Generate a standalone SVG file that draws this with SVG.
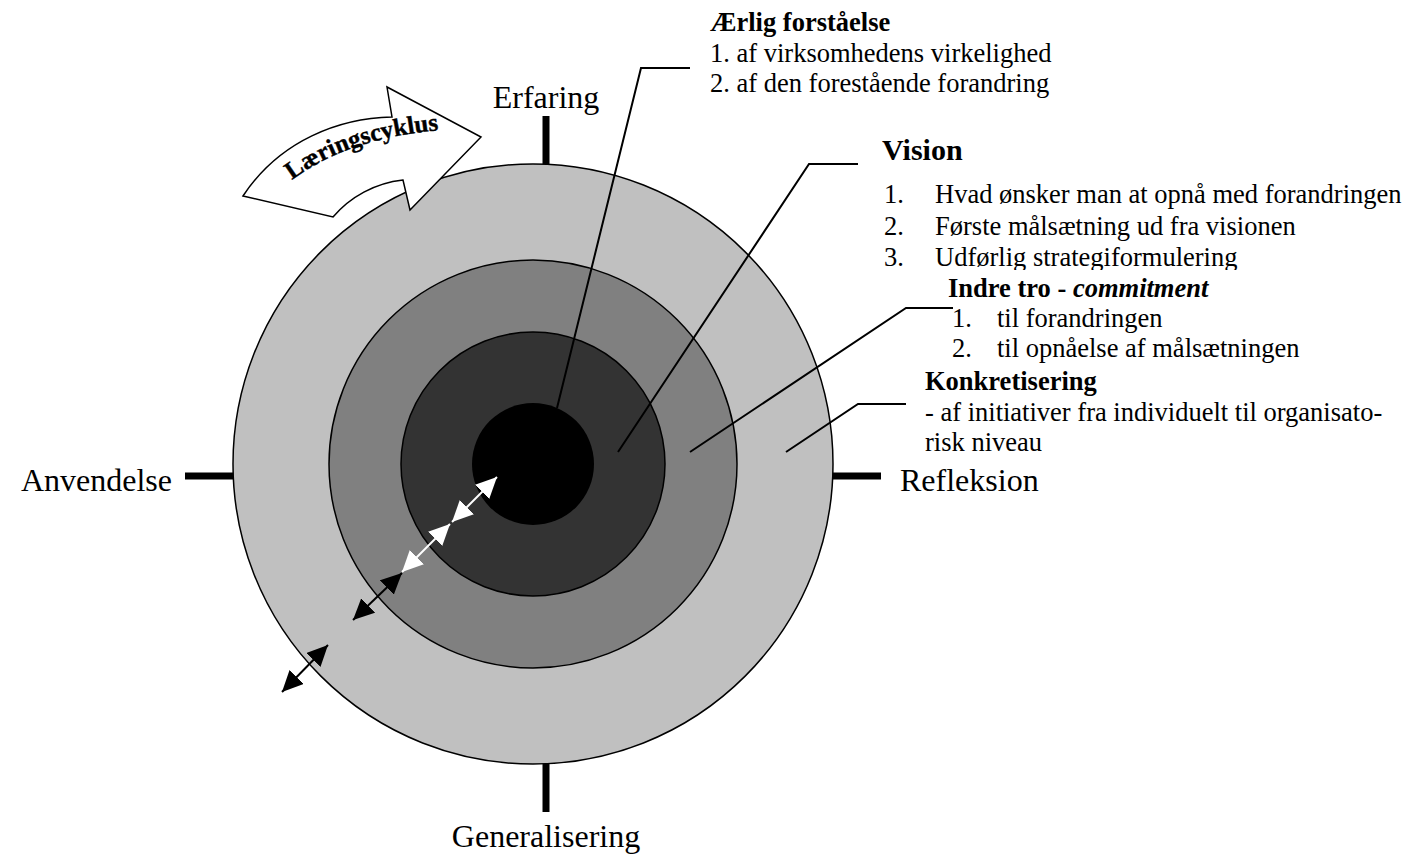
<svg xmlns="http://www.w3.org/2000/svg" width="1413" height="856" viewBox="0 0 1413 856">
  <style>
    text { font-family: "Liberation Serif", "Times New Roman", serif; fill: #000; }
    .axis { font-size: 32px; }
    .body { font-size: 26.5px; }
    .head { font-size: 26.5px; font-weight: bold; }
    .ring { stroke: #000; stroke-width: 1.5; }
    .tick { stroke: #000; stroke-width: 7; }
    .leader { fill: none; stroke: #000; stroke-width: 2; }
    .dbl-w { stroke: #fff; stroke-width: 2; marker-start: url(#headW); marker-end: url(#headW); }
    .dbl-b { stroke: #000; stroke-width: 2; marker-start: url(#headB); marker-end: url(#headB); }
  </style>
  <defs>
    <marker id="headW" markerUnits="userSpaceOnUse" markerWidth="22" markerHeight="22" refX="21" refY="10" orient="auto-start-reverse">
      <path d="M0,0 L21,10 L0,20 Z" fill="#fff"/>
    </marker>
    <marker id="headB" markerUnits="userSpaceOnUse" markerWidth="22" markerHeight="22" refX="21" refY="10" orient="auto-start-reverse">
      <path d="M0,0 L21,10 L0,20 Z" fill="#000"/>
    </marker>
    <!-- the Vision text box cuts off the bottom of its last line -->
    <clipPath id="visionClip">
      <rect x="860" y="120" width="553" height="150"/>
    </clipPath>
    <path id="cycleBase" d="M292,180 Q348,138 442,130"/>
  </defs>

  <!-- axis ticks and labels -->
  <g id="axes">
    <line class="tick" x1="546" y1="116" x2="546" y2="165"/>
    <line class="tick" x1="546" y1="763" x2="546" y2="812"/>
    <line class="tick" x1="185" y1="476" x2="234" y2="476"/>
    <line class="tick" x1="832" y1="476" x2="881" y2="476"/>
    <text id="erfaring" class="axis" x="546" y="108" text-anchor="middle">Erfaring</text>
    <text id="generalisering" class="axis" x="546" y="847" text-anchor="middle">Generalisering</text>
    <text id="anvendelse" class="axis" x="172" y="491" text-anchor="end">Anvendelse</text>
    <text id="refleksion" class="axis" x="900" y="491">Refleksion</text>
  </g>

  <!-- concentric rings -->
  <g id="rings">
    <circle id="ring-konkretisering" class="ring" cx="533" cy="464" r="300" fill="#c0c0c0"/>
    <circle id="ring-indre-tro" class="ring" cx="533" cy="464" r="204" fill="#808080"/>
    <circle id="ring-vision" class="ring" cx="533" cy="464" r="132" fill="#333333"/>
    <circle id="ring-forstaaelse" cx="533" cy="464" r="61" fill="#000"/>
  </g>

  <!-- curved cycle arrow -->
  <g id="cycle-arrow">
    <path d="M243,196 L333,217 C350,197 375,183 403,180 L410,210 L481,137 L387,87 L392,117 C340,118 280,140 243,196 Z" fill="#fff" stroke="#000" stroke-width="1.5" stroke-linejoin="miter"/>
    <text font-size="25" font-weight="bold" stroke="#000" stroke-width="0.4"><textPath href="#cycleBase">Læringscyklus</textPath></text>
  </g>

  <!-- leader lines and double arrows -->
  <g id="connectors">
    <polyline class="leader" points="557,408 641,68 690,68"/>
    <polyline class="leader" points="618,452 809,164 858,164"/>
    <polyline class="leader" points="690,452 906,308 953,308"/>
    <polyline class="leader" points="786,452 858,404 906,404"/>
    <line class="dbl-w" x1="497" y1="477" x2="452" y2="522"/>
    <line class="dbl-w" x1="450" y1="524" x2="402" y2="572"/>
    <line class="dbl-b" x1="402" y1="573" x2="353" y2="620"/>
    <line class="dbl-b" x1="328" y1="645" x2="282" y2="692"/>
  </g>

  <!-- annotation blocks -->
  <g id="label-forstaaelse">
    <text class="head" x="710" y="31">Ærlig forståelse</text>
    <text class="body" x="710" y="62">1. af virksomhedens virkelighed</text>
    <text class="body" x="710" y="92">2. af den forestående forandring</text>
  </g>

  <g id="label-vision" clip-path="url(#visionClip)">
    <text x="882" y="160" font-size="30" font-weight="bold">Vision</text>
    <text class="body" x="884" y="203">1.</text>
    <text class="body" x="935" y="203">Hvad ønsker man at opnå med forandringen</text>
    <text class="body" x="884" y="235">2.</text>
    <text class="body" x="935" y="235">Første målsætning ud fra visionen</text>
    <text class="body" x="884" y="266">3.</text>
    <text class="body" x="935" y="266">Udførlig strategiformulering</text>
  </g>

  <g id="label-indre-tro">
    <text class="head" x="948" y="297">Indre tro - <tspan font-style="italic">commitment</tspan></text>
    <text class="body" x="952" y="327">1.</text>
    <text class="body" x="997" y="327">til forandringen</text>
    <text class="body" x="952" y="357">2.</text>
    <text class="body" x="997" y="357">til opnåelse af målsætningen</text>
  </g>

  <g id="label-konkretisering">
    <text class="head" x="925" y="390">Konkretisering</text>
    <text class="body" x="925" y="421">- af initiativer fra individuelt til organisato-</text>
    <text class="body" x="925" y="451">risk niveau</text>
  </g>
</svg>
